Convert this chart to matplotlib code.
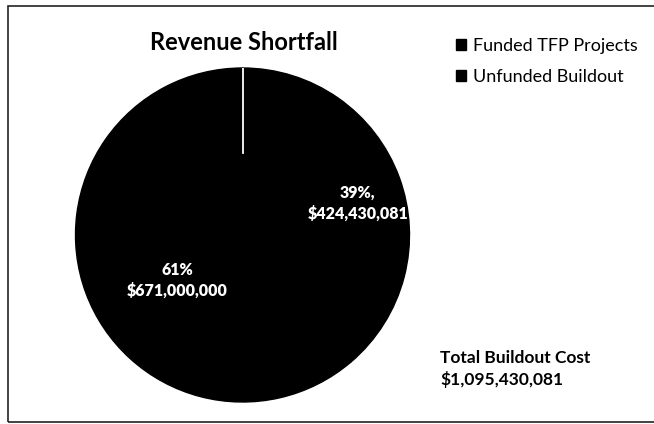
import matplotlib.pyplot as plt
from matplotlib.patches import Rectangle

plt.rcParams['font.family'] = ['Lato', 'DejaVu Sans']

categories = ['Funded TFP Projects', 'Unfunded Buildout']
values = [671000000, 424430081]
pct_labels = ['61%\n$671,000,000', '39%,\n$424,430,081']
total_text = 'Total Buildout Cost\n$1,095,430,081'

fig = plt.figure(figsize=(6.54, 4.24), dpi=100)

# outer chart border (right edge runs off the picture)
fig.patches.append(Rectangle((8 / 654, 2 / 424), 1.0, 1 - 8 / 424,
                             transform=fig.transFigure, fill=False,
                             edgecolor='#222222', linewidth=1.2))

ax = fig.add_axes([75 / 654, 22 / 424, 335 / 654, 334 / 424])
wedges, _ = ax.pie(values, colors=['black', 'black'], startangle=90,
                   counterclock=True, radius=1,
                   wedgeprops=dict(linewidth=1, edgecolor='black'))
ax.set_xlim(-1, 1)
ax.set_ylim(-1, 1)
ax.set_aspect('equal')
ax.axis('off')

# partial white divider at the top of the pie
ax.plot([0, 0], [1, 0.49], color='white', linewidth=1.3, zorder=5)

ax.text(-0.39, -0.27, pct_labels[0], color='white', ha='center', va='center',
        fontsize=11.5, fontweight='heavy', linespacing=1.3)
ax.text(0.69, 0.19, pct_labels[1], color='white', ha='center', va='center',
        fontsize=11.5, fontweight='heavy', linespacing=1.3)

fig.text(244 / 654, 1 - 42 / 424, 'Revenue Shortfall', ha='center', va='center',
         fontsize=17, fontweight='bold')

fig.legend(wedges, categories, loc='upper left',
           bbox_to_anchor=(440 / 654, 1 - 22 / 424), frameon=False,
           fontsize=13, handlelength=0.55, handleheight=0.55, handletextpad=0.4,
           labelspacing=0.8)

fig.text(440 / 654, 1 - 369 / 424, total_text, ha='left', va='center',
         fontsize=12.5, fontweight='bold', linespacing=1.3)

fig.savefig('out.png', dpi=100)
